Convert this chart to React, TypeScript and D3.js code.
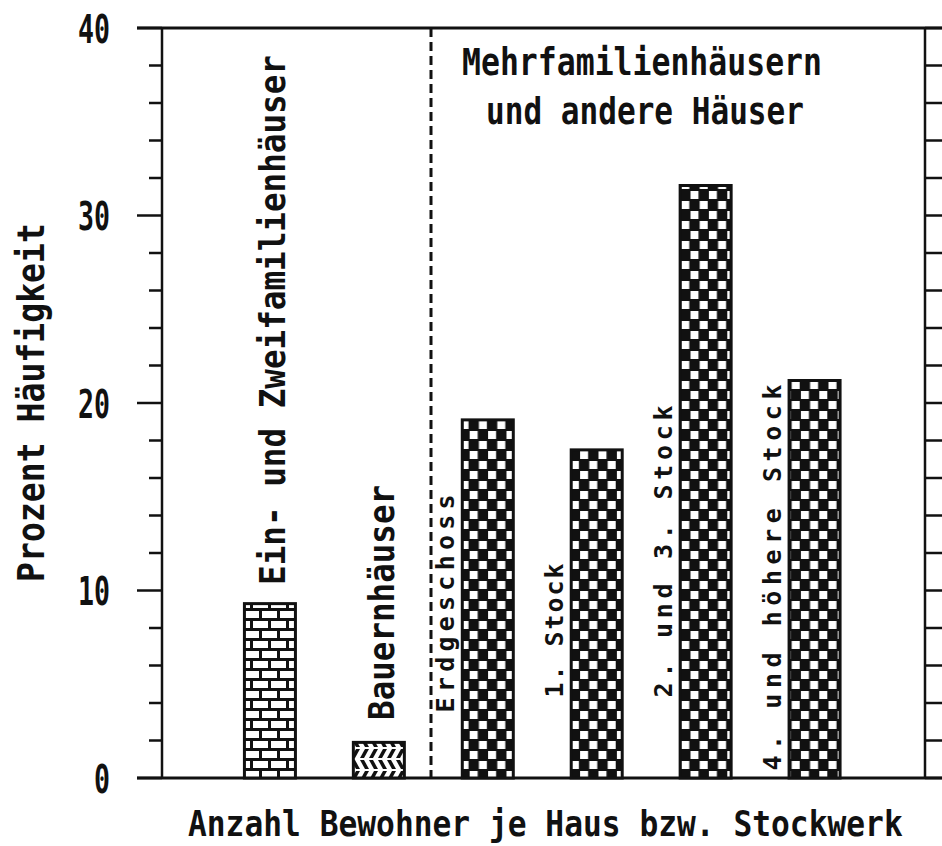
import React from "react";
import * as d3 from "d3";

// ---- data ----
const categories = [
  "Ein- und Zweifamilienhäuser",
  "Bauernhäuser",
  "Erdgeschoss",
  "1. Stock",
  "2. und 3. Stock",
  "4. und höhere Stock",
];
const values = [9.3, 1.9, 19.1, 17.5, 31.6, 21.2];
const patterns = ["brick", "herring", "checker", "checker", "checker", "checker"];
// label start (lower end of rotated text) in % units
const labelBase = [10.3, 3.1, 3.5, 4.3, 4.3, 0.4];
const labelBig = [true, true, false, false, false, false];
const labelLen = [530, 235, 218, 134, 292, 386];
const yMajorTicks = [0, 10, 20, 30, 40];
const yMinorTicks = d3.range(0, 41, 2);
const groupTitle = ["Mehrfamilienhäusern", "und andere Häuser"];
const xTitle = "Anzahl Bewohner je Haus bzw. Stockwerk";
const yTitle = "Prozent Häufigkeit";

const W = 942;
const H = 846;
const FONT = "'DejaVu Sans Mono', monospace";
const ADV = 0.602; // advance per em
const CAP = 0.729; // cap height per em

// Condensed "pixel" text: font size from the target length, height from a vertical scale
function PixText(props: {
  x: number;
  y: number;
  text: string;
  length: number;
  cap: number;
  rotate?: number;
  anchor?: string;
}) {
  const { x, y, text, length, cap, rotate = 0, anchor = "start" } = props;
  const fs = length / (text.length * ADV);
  const sy = cap / (fs * CAP);
  return (
    <g transform={`translate(${x},${y}) rotate(${rotate}) scale(1,${sy})`}>
      <text
        x={0}
        y={0}
        textAnchor={anchor}
        fontFamily={FONT}
        fontWeight="bold"
        fontSize={fs}
        fill="#111"
      >
        {text}
      </text>
    </g>
  );
}

export default function App() {
  const y = d3.scaleLinear().domain([0, 40]).range([778, 28]);
  const x = d3.scaleLinear().domain([0, 7]).range([161, 923.5]);
  const bw = 51;
  const left = 162;
  const right = 925;

  return (
    <svg
      width={W}
      height={H}
      style={{ position: "absolute", left: 0, top: 0, background: "#fff" }}
    >
      <defs>
        <pattern id="checker" patternUnits="userSpaceOnUse" width={18.4} height={20}>
          <rect width={18.4} height={20} fill="#111" />
          <rect x={0.5} y={1} width={8} height={8} fill="#fff" />
          <rect x={9.7} y={11} width={8} height={8} fill="#fff" />
        </pattern>
        <pattern id="brick" patternUnits="userSpaceOnUse" width={36} height={20}>
          <rect width={36} height={20} fill="#111" />
          <rect x={1} y={1} width={15} height={7} fill="#fff" />
          <rect x={19} y={1} width={15} height={7} fill="#fff" />
          <rect x={10} y={11} width={15} height={7} fill="#fff" />
          <rect x={28} y={11} width={8} height={7} fill="#fff" />
          <rect x={0} y={11} width={7} height={7} fill="#fff" />
        </pattern>
        <pattern id="herring" patternUnits="userSpaceOnUse" width={9} height={22}>
          <rect width={9} height={22} fill="#fff" />
          <polygon points="0,10 4,10 9,1 5,1" fill="#111" />
          <polygon points="0,12 4,12 9,21 5,21" fill="#111" />
        </pattern>
      </defs>

      {/* frame lines */}
      <line x1={137} x2={W} y1={y(40)} y2={y(40)} stroke="#111" strokeWidth={3} />
      <line x1={137} x2={W} y1={y(0)} y2={y(0)} stroke="#111" strokeWidth={3} />
      <line x1={left} x2={left} y1={y(40)} y2={y(0)} stroke="#111" strokeWidth={2.5} />
      <line x1={right} x2={right} y1={y(40)} y2={y(0)} stroke="#111" strokeWidth={2.5} />

      {/* ticks */}
      {yMinorTicks.map((t) => (
        <g key={"t" + t}>
          <line
            x1={t % 10 === 0 ? 137 : 149}
            x2={left}
            y1={y(t)}
            y2={y(t)}
            stroke="#111"
            strokeWidth={2.5}
          />
          <line x1={right} x2={W} y1={y(t)} y2={y(t)} stroke="#111" strokeWidth={2.5} />
        </g>
      ))}
      {yMajorTicks.map((t) => {
        const s = String(t);
        return (
          <PixText
            key={"l" + t}
            x={110}
            y={y(t) + 14.5}
            text={s}
            length={16 * s.length}
            cap={29}
            anchor="end"
          />
        );
      })}

      {/* dashed separator */}
      <line
        x1={Math.round(x(2.48))}
        x2={Math.round(x(2.48))}
        y1={y(40)}
        y2={y(0)}
        stroke="#111"
        strokeWidth={3}
        strokeDasharray="9,5"
      />

      {/* bars */}
      {values.map((v, i) => (
        <rect
          key={"b" + i}
          x={x(i + 1) - bw / 2}
          y={y(v)}
          width={bw}
          height={y(0) - y(v)}
          fill={`url(#${patterns[i]})`}
          stroke="#111"
          strokeWidth={3}
        />
      ))}

      {/* bar labels */}
      {categories.map((c, i) => {
        const big = labelBig[i];
        const bx = x(i + 1) + (big ? 15 : -34);
        const by = y(labelBase[i]);
        if (big) {
          return (
            <PixText
              key={"c" + i}
              x={bx}
              y={by}
              rotate={-90}
              text={c}
              length={labelLen[i]}
              cap={26}
            />
          );
        }
        return (
          <text
            key={"c" + i}
            transform={`translate(${bx},${by}) rotate(-90)`}
            fontFamily={FONT}
            fontWeight="bold"
            fontSize={25}
            textLength={labelLen[i]}
            lengthAdjust="spacing"
            fill="#111"
          >
            {c}
          </text>
        );
      })}

      {/* group title */}
      <PixText x={642} y={75} text={groupTitle[0]} length={360} cap={27} anchor="middle" />
      <PixText x={645} y={124} text={groupTitle[1]} length={318} cap={27} anchor="middle" />

      {/* axis titles */}
      <PixText x={188} y={836} text={xTitle} length={715} cap={26} />
      <PixText x={44} y={582} rotate={-90} text={yTitle} length={359} cap={27} />
    </svg>
  );
}
